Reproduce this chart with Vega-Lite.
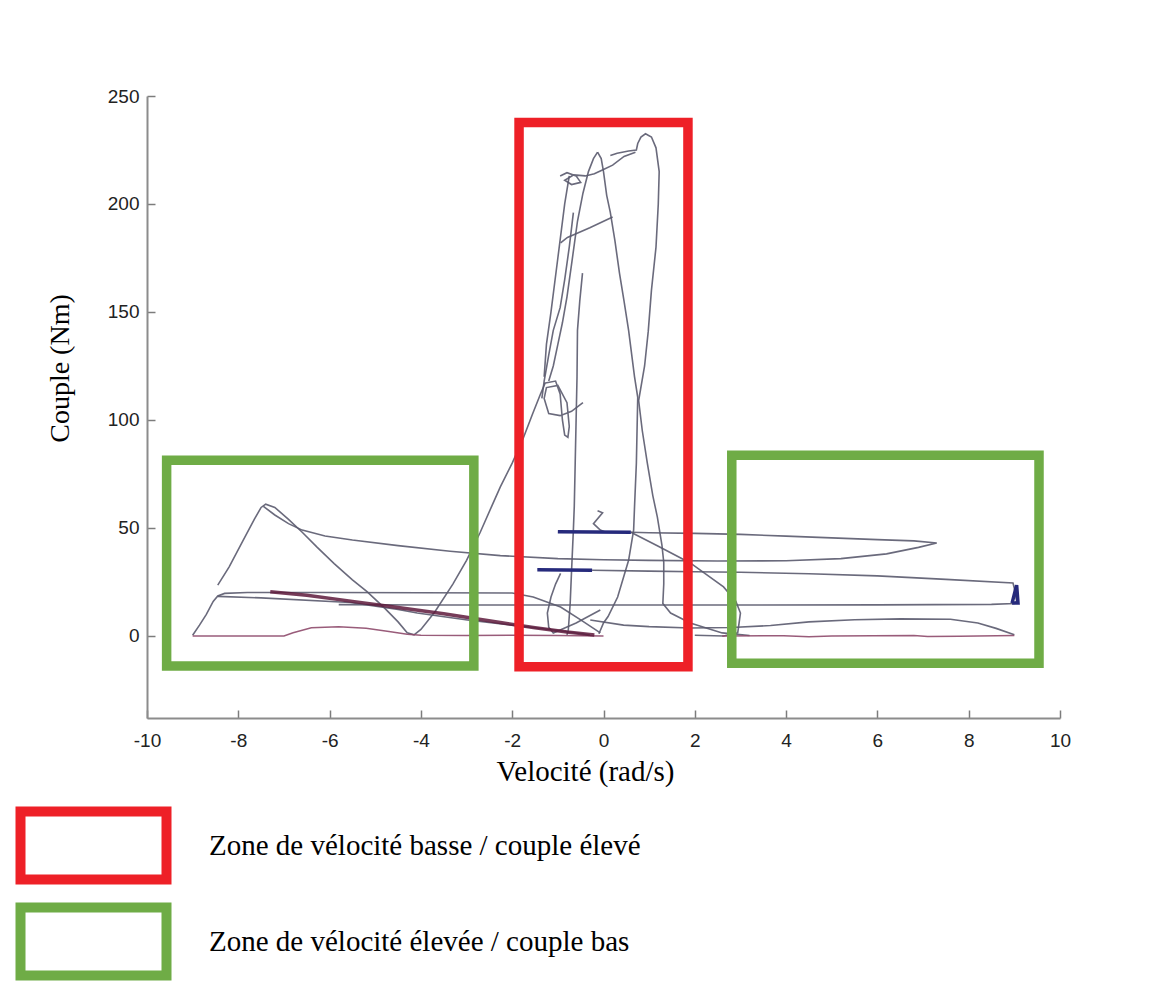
{
  "$schema": "https://vega.github.io/schema/vega-lite/v6.json",
  "width": 913,
  "height": 622,
  "autosize": "none",
  "padding": {"left": 147, "top": 96, "right": 90, "bottom": 265},
  "background": "white",
  "config": {
    "view": {"stroke": null},
    "legend": {
      "orient": "none",
      "legendX": -95,
      "legendY": 708,
      "title": null,
      "padding": 0,
      "symbolType": "M-2,-0.93H2V0.93H-2Z",
      "symbolSize": 5329,
      "symbolStrokeWidth": 10,
      "symbolFillColor": "white",
      "labelFont": "Liberation Serif",
      "labelFontSize": 29,
      "labelColor": "black",
      "labelLimit": 0,
      "labelOffset": 74,
      "rowPadding": -15
    }
  },
  "resolve": {"axis": {"x": "independent", "y": "independent"}},
  "datasets": {
    "zones": [
      {"zone": "Zone de vélocité basse / couple élevé", "x1": -1.85, "x2": 1.85, "y1": -14.3, "y2": 237.7},
      {"zone": "Zone de vélocité élevée / couple bas", "x1": -9.57, "x2": -2.84, "y1": -13.9, "y2": 81.4},
      {"zone": "Zone de vélocité élevée / couple bas", "x1": 2.81, "x2": 9.54, "y1": -12.7, "y2": 83.7}
    ],
    "lines": [
      {"t":"T1","k":"g","i":1,"x":-9.0,"y":0.3},{"t":"T1","k":"g","i":2,"x":-8.85,"y":5},{"t":"T1","k":"g","i":3,"x":-8.7,"y":10},{"t":"T1","k":"g","i":4,"x":-8.55,"y":16},{"t":"T1","k":"g","i":5,"x":-8.45,"y":18.5},{"t":"T1","k":"g","i":6,"x":-8.3,"y":19.7},{"t":"T1","k":"g","i":7,"x":-7.8,"y":20.1},{"t":"T1","k":"g","i":8,"x":-6,"y":20.1},{"t":"T1","k":"g","i":9,"x":-4,"y":20},{"t":"T1","k":"g","i":10,"x":-2,"y":19.9},{"t":"T1","k":"g","i":11,"x":-1.54,"y":18},{"t":"T1","k":"g","i":12,"x":-0.94,"y":13.4},{"t":"T1","k":"g","i":13,"x":-0.5,"y":7.4},{"t":"T1","k":"g","i":14,"x":-0.07,"y":1.4},
      {"t":"T2","k":"g","i":1,"x":-8.45,"y":18.3},{"t":"T2","k":"g","i":2,"x":-7.5,"y":17.6},{"t":"T2","k":"g","i":3,"x":-5.55,"y":15.5},{"t":"T2","k":"g","i":4,"x":-4.5,"y":12.2},{"t":"T2","k":"g","i":5,"x":-4.08,"y":10.6},{"t":"T2","k":"g","i":6,"x":-2.98,"y":7.4},{"t":"T2","k":"g","i":7,"x":-2,"y":5},{"t":"T2","k":"g","i":8,"x":-1,"y":2.5},{"t":"T2","k":"g","i":9,"x":-0.3,"y":0.5},
      {"t":"T3","k":"r","i":1,"x":-9.0,"y":0},{"t":"T3","k":"r","i":2,"x":-7.0,"y":0},{"t":"T3","k":"r","i":3,"x":-6.8,"y":1.5},{"t":"T3","k":"r","i":4,"x":-6.4,"y":3.8},{"t":"T3","k":"r","i":5,"x":-5.8,"y":4.2},{"t":"T3","k":"r","i":6,"x":-5.2,"y":3.5},{"t":"T3","k":"r","i":7,"x":-4.7,"y":2},{"t":"T3","k":"r","i":8,"x":-4.3,"y":0.8},{"t":"T3","k":"r","i":9,"x":-4,"y":0.3},{"t":"T3","k":"r","i":10,"x":-3,"y":0.2},{"t":"T3","k":"r","i":11,"x":-2,"y":0.3},{"t":"T3","k":"r","i":12,"x":-1,"y":0.2},{"t":"T3","k":"r","i":13,"x":0,"y":0},
      {"t":"T4","k":"g","i":1,"x":-8.45,"y":23.5},{"t":"T4","k":"g","i":2,"x":-8.2,"y":32},{"t":"T4","k":"g","i":3,"x":-7.9,"y":44},{"t":"T4","k":"g","i":4,"x":-7.65,"y":54},{"t":"T4","k":"g","i":5,"x":-7.5,"y":59.5},{"t":"T4","k":"g","i":6,"x":-7.4,"y":61},{"t":"T4","k":"g","i":7,"x":-7.2,"y":59.5},{"t":"T4","k":"g","i":8,"x":-6.9,"y":54},{"t":"T4","k":"g","i":9,"x":-6.6,"y":48},{"t":"T4","k":"g","i":10,"x":-6.27,"y":41},{"t":"T4","k":"g","i":11,"x":-5.9,"y":33.5},{"t":"T4","k":"g","i":12,"x":-5.5,"y":26},{"t":"T4","k":"g","i":13,"x":-5.18,"y":20.5},{"t":"T4","k":"g","i":14,"x":-4.8,"y":13},{"t":"T4","k":"g","i":15,"x":-4.5,"y":6.5},{"t":"T4","k":"g","i":16,"x":-4.3,"y":1.5},{"t":"T4","k":"g","i":17,"x":-4.15,"y":0.5},{"t":"T4","k":"g","i":18,"x":-4.0,"y":3},{"t":"T4","k":"g","i":19,"x":-3.7,"y":11},{"t":"T4","k":"g","i":20,"x":-3.3,"y":24},{"t":"T4","k":"g","i":21,"x":-3.0,"y":35},{"t":"T4","k":"g","i":22,"x":-2.7,"y":48},{"t":"T4","k":"g","i":23,"x":-2.45,"y":60},{"t":"T4","k":"g","i":24,"x":-2.26,"y":69},{"t":"T4","k":"g","i":25,"x":-2.0,"y":80},{"t":"T4","k":"g","i":26,"x":-1.75,"y":92},{"t":"T4","k":"g","i":27,"x":-1.55,"y":103},{"t":"T4","k":"g","i":28,"x":-1.38,"y":112},{"t":"T4","k":"g","i":29,"x":-1.28,"y":117},
      {"t":"T5","k":"g","i":1,"x":-7.45,"y":60},{"t":"T5","k":"g","i":2,"x":-7.2,"y":56},{"t":"T5","k":"g","i":3,"x":-6.9,"y":52},{"t":"T5","k":"g","i":4,"x":-6.6,"y":49},{"t":"T5","k":"g","i":5,"x":-6.1,"y":46.3},{"t":"T5","k":"g","i":6,"x":-5.5,"y":44.4},{"t":"T5","k":"g","i":7,"x":-4.5,"y":41.8},{"t":"T5","k":"g","i":8,"x":-3.36,"y":39.2},{"t":"T5","k":"g","i":9,"x":-2.26,"y":37.2},{"t":"T5","k":"g","i":10,"x":-1,"y":35.8},{"t":"T5","k":"g","i":11,"x":0,"y":35.3},{"t":"T5","k":"g","i":12,"x":1,"y":35},{"t":"T5","k":"g","i":13,"x":2.5,"y":34.7},{"t":"T5","k":"g","i":14,"x":4,"y":34.8},{"t":"T5","k":"g","i":15,"x":5.2,"y":35.8},{"t":"T5","k":"g","i":16,"x":6.2,"y":38},{"t":"T5","k":"g","i":17,"x":6.9,"y":41},{"t":"T5","k":"g","i":18,"x":7.3,"y":43},{"t":"T5","k":"g","i":19,"x":6.8,"y":44},{"t":"T5","k":"g","i":20,"x":6,"y":44.6},{"t":"T5","k":"g","i":21,"x":5,"y":45.4},{"t":"T5","k":"g","i":22,"x":4,"y":46.2},{"t":"T5","k":"g","i":23,"x":3,"y":47},{"t":"T5","k":"g","i":24,"x":2,"y":47.5},{"t":"T5","k":"g","i":25,"x":1,"y":47.8},{"t":"T5","k":"g","i":26,"x":0.6,"y":48},
      {"t":"B1","k":"b","i":1,"x":0.6,"y":48},{"t":"B1","k":"b","i":2,"x":-1.0,"y":48.2},
      {"t":"B2","k":"b","i":1,"x":-1.45,"y":30.6},{"t":"B2","k":"b","i":2,"x":-0.25,"y":30.4},
      {"t":"B3","k":"b","i":1,"x":8.95,"y":15.2},{"t":"B3","k":"b","i":2,"x":9.05,"y":23.5},{"t":"B3","k":"b","i":3,"x":9.08,"y":15.2},{"t":"B3","k":"b","i":4,"x":8.95,"y":15.2},
      {"t":"T6","k":"g","i":1,"x":-0.25,"y":30.4},{"t":"T6","k":"g","i":2,"x":1,"y":30},{"t":"T6","k":"g","i":3,"x":2,"y":29.7},{"t":"T6","k":"g","i":4,"x":3,"y":29.5},{"t":"T6","k":"g","i":5,"x":4.5,"y":28.8},{"t":"T6","k":"g","i":6,"x":6,"y":27.8},{"t":"T6","k":"g","i":7,"x":7.5,"y":26.2},{"t":"T6","k":"g","i":8,"x":8.97,"y":24.5},{"t":"T6","k":"g","i":9,"x":9.0,"y":22},{"t":"T6","k":"g","i":10,"x":9.05,"y":16},{"t":"T6","k":"g","i":11,"x":9.0,"y":15},{"t":"T6","k":"g","i":12,"x":8.5,"y":14.6},{"t":"T6","k":"g","i":13,"x":6,"y":14.4},{"t":"T6","k":"g","i":14,"x":3,"y":14.3},{"t":"T6","k":"g","i":15,"x":0,"y":14.3},{"t":"T6","k":"g","i":16,"x":-2,"y":14.3},{"t":"T6","k":"g","i":17,"x":-4,"y":14.3},{"t":"T6","k":"g","i":18,"x":-5.8,"y":14.5},
      {"t":"T7","k":"m","i":1,"x":-7.3,"y":20.5},{"t":"T7","k":"m","i":2,"x":-6.5,"y":18.8},{"t":"T7","k":"m","i":3,"x":-5.5,"y":16},{"t":"T7","k":"m","i":4,"x":-4.5,"y":13.2},{"t":"T7","k":"m","i":5,"x":-3.5,"y":10.3},{"t":"T7","k":"m","i":6,"x":-2.26,"y":6.2},{"t":"T7","k":"m","i":7,"x":-1.5,"y":3.8},{"t":"T7","k":"m","i":8,"x":-0.8,"y":1.8},{"t":"T7","k":"m","i":9,"x":-0.2,"y":0.4},
      {"t":"T8","k":"g","i":1,"x":-0.29,"y":7.4},{"t":"T8","k":"g","i":2,"x":0.44,"y":5},{"t":"T8","k":"g","i":3,"x":1.0,"y":4.3},{"t":"T8","k":"g","i":4,"x":1.9,"y":3.7},{"t":"T8","k":"g","i":5,"x":2.8,"y":3.9},{"t":"T8","k":"g","i":6,"x":3.66,"y":4.8},{"t":"T8","k":"g","i":7,"x":4.5,"y":6.5},{"t":"T8","k":"g","i":8,"x":5.5,"y":7.5},{"t":"T8","k":"g","i":9,"x":6.5,"y":7.9},{"t":"T8","k":"g","i":10,"x":7.6,"y":7.7},{"t":"T8","k":"g","i":11,"x":8.2,"y":6},{"t":"T8","k":"g","i":12,"x":8.6,"y":3.5},{"t":"T8","k":"g","i":13,"x":9.0,"y":0.5},
      {"t":"T9","k":"r","i":1,"x":2.6,"y":0},{"t":"T9","k":"r","i":2,"x":3.95,"y":0.1},{"t":"T9","k":"r","i":3,"x":4.5,"y":-0.4},{"t":"T9","k":"r","i":4,"x":5,"y":0},{"t":"T9","k":"r","i":5,"x":6.8,"y":0.2},{"t":"T9","k":"r","i":6,"x":7.1,"y":-0.3},{"t":"T9","k":"r","i":7,"x":7.8,"y":-0.2},{"t":"T9","k":"r","i":8,"x":8.2,"y":0},{"t":"T9","k":"r","i":9,"x":9,"y":0.2},
      {"t":"T10","k":"g","i":1,"x":0.6,"y":48},{"t":"T10","k":"g","i":2,"x":1.2,"y":41.5},{"t":"T10","k":"g","i":3,"x":1.9,"y":33.8},{"t":"T10","k":"g","i":4,"x":2.63,"y":22.7},{"t":"T10","k":"g","i":5,"x":2.9,"y":16},{"t":"T10","k":"g","i":6,"x":3.0,"y":10.6},{"t":"T10","k":"g","i":7,"x":2.94,"y":1.4},{"t":"T10","k":"g","i":8,"x":2.63,"y":0},{"t":"T10","k":"g","i":9,"x":2.0,"y":0.3},
      {"t":"T11","k":"g","i":1,"x":0.15,"y":222.5},{"t":"T11","k":"g","i":2,"x":0.3,"y":223.5},{"t":"T11","k":"g","i":3,"x":0.55,"y":224.5},{"t":"T11","k":"g","i":4,"x":0.72,"y":225},{"t":"T11","k":"g","i":5,"x":0.75,"y":228},{"t":"T11","k":"g","i":6,"x":0.82,"y":231},{"t":"T11","k":"g","i":7,"x":0.92,"y":232.5},{"t":"T11","k":"g","i":8,"x":1.05,"y":231},{"t":"T11","k":"g","i":9,"x":1.15,"y":226},{"t":"T11","k":"g","i":10,"x":1.22,"y":215},{"t":"T11","k":"g","i":11,"x":1.2,"y":200},{"t":"T11","k":"g","i":12,"x":1.15,"y":180},{"t":"T11","k":"g","i":13,"x":1.05,"y":160},{"t":"T11","k":"g","i":14,"x":0.98,"y":141},{"t":"T11","k":"g","i":15,"x":0.9,"y":125},{"t":"T11","k":"g","i":16,"x":0.77,"y":109},{"t":"T11","k":"g","i":17,"x":0.85,"y":95},{"t":"T11","k":"g","i":18,"x":0.96,"y":80},{"t":"T11","k":"g","i":19,"x":1.08,"y":65},{"t":"T11","k":"g","i":20,"x":1.18,"y":55},{"t":"T11","k":"g","i":21,"x":1.28,"y":42},{"t":"T11","k":"g","i":22,"x":1.32,"y":34},{"t":"T11","k":"g","i":23,"x":1.32,"y":24},{"t":"T11","k":"g","i":24,"x":1.3,"y":15},{"t":"T11","k":"g","i":25,"x":1.47,"y":10.6},{"t":"T11","k":"g","i":26,"x":1.9,"y":6},{"t":"T11","k":"g","i":27,"x":2.6,"y":1.4},{"t":"T11","k":"g","i":28,"x":3.2,"y":0.2},
      {"t":"T12","k":"g","i":1,"x":-0.13,"y":224},{"t":"T12","k":"g","i":2,"x":-0.05,"y":221},{"t":"T12","k":"g","i":3,"x":0.0,"y":215},{"t":"T12","k":"g","i":4,"x":0.07,"y":204},{"t":"T12","k":"g","i":5,"x":0.15,"y":196},{"t":"T12","k":"g","i":6,"x":0.25,"y":183},{"t":"T12","k":"g","i":7,"x":0.35,"y":168},{"t":"T12","k":"g","i":8,"x":0.45,"y":155},{"t":"T12","k":"g","i":9,"x":0.55,"y":141.5},{"t":"T12","k":"g","i":10,"x":0.68,"y":120},{"t":"T12","k":"g","i":11,"x":0.75,"y":110.5},{"t":"T12","k":"g","i":12,"x":0.72,"y":80},{"t":"T12","k":"g","i":13,"x":0.68,"y":60},{"t":"T12","k":"g","i":14,"x":0.66,"y":49},{"t":"T12","k":"g","i":15,"x":0.55,"y":35},{"t":"T12","k":"g","i":16,"x":0.31,"y":18},{"t":"T12","k":"g","i":17,"x":0.1,"y":9},{"t":"T12","k":"g","i":18,"x":0,"y":6},{"t":"T12","k":"g","i":19,"x":-0.1,"y":1},
      {"t":"T13","k":"g","i":1,"x":-0.13,"y":224},{"t":"T13","k":"g","i":2,"x":-0.22,"y":221},{"t":"T13","k":"g","i":3,"x":-0.33,"y":215},{"t":"T13","k":"g","i":4,"x":-0.45,"y":205},{"t":"T13","k":"g","i":5,"x":-0.57,"y":192},{"t":"T13","k":"g","i":6,"x":-0.7,"y":172},{"t":"T13","k":"g","i":7,"x":-0.8,"y":157},{"t":"T13","k":"g","i":8,"x":-0.9,"y":145},{"t":"T13","k":"g","i":9,"x":-1.0,"y":135},{"t":"T13","k":"g","i":10,"x":-1.1,"y":125},{"t":"T13","k":"g","i":11,"x":-1.2,"y":118},
      {"t":"T14","k":"g","i":1,"x":0.2,"y":194},{"t":"T14","k":"g","i":2,"x":-0.3,"y":189},{"t":"T14","k":"g","i":3,"x":-0.79,"y":184.5},{"t":"T14","k":"g","i":4,"x":-0.94,"y":182},
      {"t":"T15","k":"g","i":1,"x":-0.66,"y":196},{"t":"T15","k":"g","i":2,"x":-0.75,"y":180},{"t":"T15","k":"g","i":3,"x":-0.85,"y":165},{"t":"T15","k":"g","i":4,"x":-0.95,"y":152},{"t":"T15","k":"g","i":5,"x":-1.1,"y":141.5},{"t":"T15","k":"g","i":6,"x":-1.2,"y":130},{"t":"T15","k":"g","i":7,"x":-1.3,"y":118},{"t":"T15","k":"g","i":8,"x":-1.35,"y":110},
      {"t":"T16","k":"g","i":1,"x":-0.46,"y":168},{"t":"T16","k":"g","i":2,"x":-0.52,"y":155},{"t":"T16","k":"g","i":3,"x":-0.57,"y":141.5},{"t":"T16","k":"g","i":4,"x":-0.58,"y":120},{"t":"T16","k":"g","i":5,"x":-0.6,"y":100},{"t":"T16","k":"g","i":6,"x":-0.62,"y":80},{"t":"T16","k":"g","i":7,"x":-0.64,"y":60},{"t":"T16","k":"g","i":8,"x":-0.66,"y":49},{"t":"T16","k":"g","i":9,"x":-0.7,"y":30},{"t":"T16","k":"g","i":10,"x":-0.73,"y":15},{"t":"T16","k":"g","i":11,"x":-0.77,"y":3},{"t":"T16","k":"g","i":12,"x":-0.8,"y":0.5},
      {"t":"T18","k":"g","i":1,"x":-0.75,"y":213},{"t":"T18","k":"g","i":2,"x":-0.85,"y":200},{"t":"T18","k":"g","i":3,"x":-1.0,"y":175},{"t":"T18","k":"g","i":4,"x":-1.15,"y":150},{"t":"T18","k":"g","i":5,"x":-1.25,"y":135},{"t":"T18","k":"g","i":6,"x":-1.3,"y":120},
      {"t":"T19","k":"g","i":1,"x":-1.3,"y":117},{"t":"T19","k":"g","i":2,"x":-1.05,"y":118},{"t":"T19","k":"g","i":3,"x":-0.95,"y":112},{"t":"T19","k":"g","i":4,"x":-0.9,"y":100},{"t":"T19","k":"g","i":5,"x":-0.85,"y":93},{"t":"T19","k":"g","i":6,"x":-0.78,"y":92},{"t":"T19","k":"g","i":7,"x":-0.75,"y":97},{"t":"T19","k":"g","i":8,"x":-0.8,"y":108},{"t":"T19","k":"g","i":9,"x":-1.0,"y":116},{"t":"T19","k":"g","i":10,"x":-1.25,"y":115},{"t":"T19","k":"g","i":11,"x":-1.3,"y":110},{"t":"T19","k":"g","i":12,"x":-1.2,"y":103},{"t":"T19","k":"g","i":13,"x":-0.95,"y":102},{"t":"T19","k":"g","i":14,"x":-0.7,"y":104},{"t":"T19","k":"g","i":15,"x":-0.45,"y":108},
      {"t":"T20","k":"g","i":1,"x":-0.95,"y":213},{"t":"T20","k":"g","i":2,"x":-0.8,"y":214.5},{"t":"T20","k":"g","i":3,"x":-0.6,"y":213},{"t":"T20","k":"g","i":4,"x":-0.5,"y":210},{"t":"T20","k":"g","i":5,"x":-0.7,"y":209},{"t":"T20","k":"g","i":6,"x":-0.85,"y":211},{"t":"T20","k":"g","i":7,"x":-0.65,"y":213.5},{"t":"T20","k":"g","i":8,"x":-0.4,"y":213},{"t":"T20","k":"g","i":9,"x":-0.2,"y":214},{"t":"T20","k":"g","i":10,"x":0.0,"y":216},{"t":"T20","k":"g","i":11,"x":0.2,"y":218},{"t":"T20","k":"g","i":12,"x":0.45,"y":222},{"t":"T20","k":"g","i":13,"x":0.7,"y":224},
      {"t":"T21","k":"g","i":1,"x":-0.13,"y":58},{"t":"T21","k":"g","i":2,"x":-0.02,"y":57},{"t":"T21","k":"g","i":3,"x":-0.22,"y":52},{"t":"T21","k":"g","i":4,"x":-0.07,"y":49},{"t":"T21","k":"g","i":5,"x":0.05,"y":48},
      {"t":"T22","k":"g","i":1,"x":-0.94,"y":29},{"t":"T22","k":"g","i":2,"x":-1.05,"y":24},{"t":"T22","k":"g","i":3,"x":-1.15,"y":18},{"t":"T22","k":"g","i":4,"x":-1.23,"y":10.6},{"t":"T22","k":"g","i":5,"x":-1.2,"y":4},{"t":"T22","k":"g","i":6,"x":-1.1,"y":1.4},{"t":"T22","k":"g","i":7,"x":-0.6,"y":6},{"t":"T22","k":"g","i":8,"x":-0.07,"y":12}
    ]
  },
  "layer": [
    {
      "mark": {"type": "rule", "color": "#8a8a8a", "strokeDash": [2, 2], "strokeWidth": 1.2},
      "encoding": {"y": {"datum": 0, "type": "quantitative",
        "axis": {"orient": "right", "offset": -913, "values": [0, 50, 100, 150, 200, 250], "domain": false, "labels": false, "grid": false,
          "ticks": true, "tickSize": 8, "tickColor": "#7c7c7c", "tickWidth": 1.5, "title": null}}}
    },
    {
      "mark": {"type": "rule", "color": "#8a8a8a", "strokeDash": [2, 2], "strokeWidth": 1.2},
      "encoding": {"x": {"datum": 0, "type": "quantitative",
        "axis": {"orient": "top", "offset": -622, "values": [-10, -8, -6, -4, -2, 0, 2, 4, 6, 8, 10], "domain": false, "labels": false, "grid": false,
          "ticks": true, "tickSize": 8, "tickColor": "#7c7c7c", "tickWidth": 1.5, "title": null}}}
    },
    {
      "data": {"name": "lines"},
      "transform": [{"filter": "datum.k == 'g'"}],
      "mark": {"type": "line", "color": "#5a5a6e", "strokeWidth": 1.6, "opacity": 0.9},
      "encoding": {
        "x": {"field": "x", "type": "quantitative", "scale": {"domain": [-10, 10], "nice": false, "zero": false},
          "axis": {"values": [-10, -8, -6, -4, -2, 0, 2, 4, 6, 8, 10], "labelExpr": "'' + datum.value", "grid": false, "labelFlush": false,
            "domainColor": "#8c8c8c", "domainWidth": 2, "ticks": false, "tickSize": 0,
            "labelPadding": 13, "labelFont": "Liberation Sans", "labelFontSize": 19, "labelColor": "#222222",
            "title": "Velocité (rad/s)", "titleFont": "Liberation Serif", "titleFontSize": 29, "titleFontWeight": "normal",
            "titleColor": "black", "titleX": 438, "titleY": 39, "titleBaseline": "top"}},
        "y": {"field": "y", "type": "quantitative", "scale": {"domain": [-38, 250], "nice": false, "zero": false},
          "axis": {"values": [0, 50, 100, 150, 200, 250], "grid": false, "labelFlush": false,
            "domainColor": "#8c8c8c", "domainWidth": 2, "ticks": false, "tickSize": 0,
            "labelPadding": 8, "labelFont": "Liberation Sans", "labelFontSize": 19, "labelColor": "#222222",
            "title": "Couple (Nm)", "titleFont": "Liberation Serif", "titleFontSize": 28, "titleFontWeight": "normal",
            "titleColor": "black", "titleX": -73, "titleY": 272, "titleBaseline": "bottom"}},
        "detail": {"field": "t", "type": "nominal"},
        "order": {"field": "i", "type": "quantitative"}
      }
    },
    {
      "data": {"name": "lines"},
      "transform": [{"filter": "datum.k == 'r'"}],
      "mark": {"type": "line", "color": "#8e4a6c", "strokeWidth": 1.5, "opacity": 0.9},
      "encoding": {
        "x": {"field": "x", "type": "quantitative", "axis": null},
        "y": {"field": "y", "type": "quantitative", "axis": null},
        "detail": {"field": "t", "type": "nominal"},
        "order": {"field": "i", "type": "quantitative"}
      }
    },
    {
      "data": {"name": "lines"},
      "transform": [{"filter": "datum.k == 'm'"}],
      "mark": {"type": "line", "color": "#5e1a3c", "strokeWidth": 3.5, "opacity": 0.85},
      "encoding": {
        "x": {"field": "x", "type": "quantitative", "axis": null},
        "y": {"field": "y", "type": "quantitative", "axis": null},
        "detail": {"field": "t", "type": "nominal"},
        "order": {"field": "i", "type": "quantitative"}
      }
    },
    {
      "data": {"name": "lines"},
      "transform": [{"filter": "datum.k == 'b'"}],
      "mark": {"type": "line", "color": "#262a7c", "strokeWidth": 3.5},
      "encoding": {
        "x": {"field": "x", "type": "quantitative", "axis": null},
        "y": {"field": "y", "type": "quantitative", "axis": null},
        "detail": {"field": "t", "type": "nominal"},
        "order": {"field": "i", "type": "quantitative"}
      }
    },
    {
      "data": {"name": "zones"},
      "mark": {"type": "rect", "filled": false, "strokeWidth": 9.5, "clip": false},
      "encoding": {
        "x": {"field": "x1", "type": "quantitative", "axis": null},
        "x2": {"field": "x2"},
        "y": {"field": "y1", "type": "quantitative", "axis": null},
        "y2": {"field": "y2"},
        "stroke": {"field": "zone", "type": "nominal",
          "scale": {"domain": ["Zone de vélocité basse / couple élevé", "Zone de vélocité élevée / couple bas"], "range": ["#ee2027", "#6fac46"]}}
      }
    }
  ]
}
